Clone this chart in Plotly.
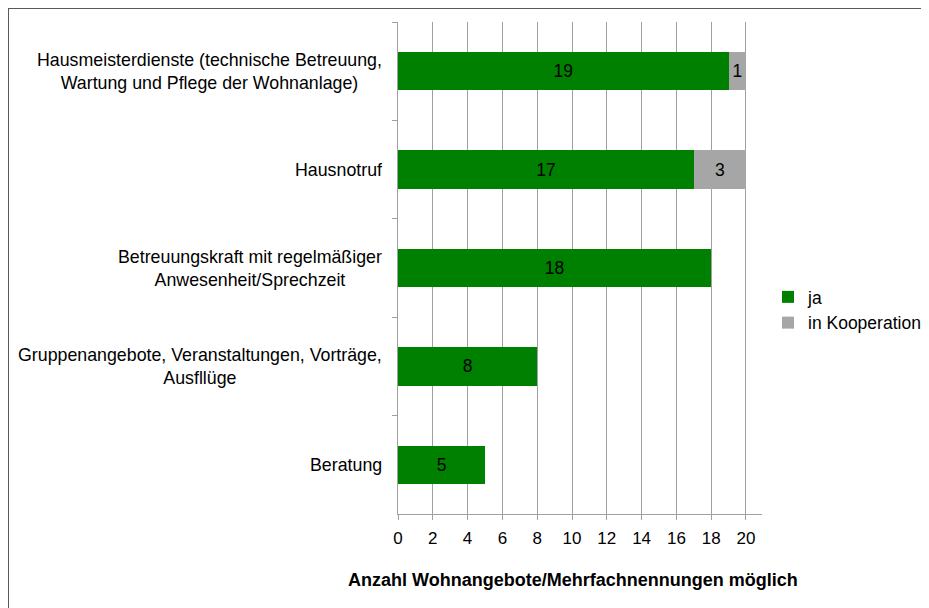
import plotly.graph_objects as go

categories = [
    "Hausmeisterdienste (technische Betreuung,<br>Wartung und Pflege der Wohnanlage)",
    "Hausnotruf",
    "Betreuungskraft mit regelmäßiger<br>Anwesenheit/Sprechzeit",
    "Gruppenangebote, Veranstaltungen, Vorträge,<br>Ausfllüge",
    "Beratung",
]
ja = [19, 17, 18, 8, 5]
kooperation = [1, 3, 0, 0, 0]
x_ticks = list(range(0, 21, 2))
x_title = "Anzahl Wohnangebote/Mehrfachnennungen möglich"

FONT = "Liberation Sans, Arial, sans-serif"
GREEN = "#008000"
GREY = "#a6a6a6"
GRID = "#a0a0a0"

# the page body has an 8px margin, so the figure sits 8px in from the window edge
OFF = 8
W, H = 929 - OFF, 608 - OFF
# plot area, in window pixels
L, R, T, B = 398, 762, 22, 514


def px(x):
    return (x - L) / (R - L)


def py(y):
    return (B - y) / (B - T)


fig = go.Figure()
fig.add_trace(go.Bar(
    y=categories, x=ja, orientation="h", name="ja",
    marker=dict(color=GREEN, line=dict(width=0)),
    text=[str(v) if v else "" for v in ja],
    textposition="inside", insidetextanchor="middle",
    insidetextfont=dict(color="black", size=17.5, family=FONT),
    constraintext="none", legendgroup="a",
))
fig.add_trace(go.Bar(
    y=categories, x=kooperation, orientation="h", name="in Kooperation",
    marker=dict(color=GREY, line=dict(width=0)),
    text=[str(v) if v else "" for v in kooperation],
    textposition="inside", insidetextanchor="middle",
    insidetextfont=dict(color="black", size=17.5, family=FONT),
    constraintext="none", legendgroup="b",
))

# category labels, wrapped lines centred on each other like the original
for c in categories:
    fig.add_annotation(
        x=px(384), xref="paper", y=c, yref="y", text=c, showarrow=False,
        xanchor="right", yanchor="middle", align="center",
        font=dict(size=17.8, family=FONT, color="black"),
    )

fig.add_annotation(
    x=px(573), xref="paper", y=py(580), yref="paper", text="<b>%s</b>" % x_title,
    showarrow=False, xanchor="center", yanchor="middle",
    font=dict(size=18, family=FONT, color="black"),
)

# chart area border (only top/left edges visible in the picture)
fig.add_shape(
    type="rect", xref="paper", yref="paper",
    x0=px(OFF), y0=py(700), x1=px(1000), y1=py(OFF),
    line=dict(color="#595959", width=2), layer="below",
)

fig.update_layout(
    width=W, height=H,
    barmode="stack", bargap=0.61,
    margin=dict(l=L - OFF, r=W - (R - OFF), t=T - OFF, b=H - (B - OFF), autoexpand=False),
    paper_bgcolor="white", plot_bgcolor="white",
    font=dict(family=FONT, size=17, color="black"),
    showlegend=True,
    legend=dict(
        x=px(768), y=py(279), xanchor="left", yanchor="top",
        traceorder="grouped", tracegroupgap=0,
        font=dict(size=17.5, family=FONT, color="black"),
        bgcolor="rgba(0,0,0,0)",
    ),
    xaxis=dict(
        range=[0, 20.92], tickvals=x_ticks, showgrid=True, gridcolor=GRID, gridwidth=1,
        showline=True, linecolor=GRID, linewidth=1, zeroline=False,
        ticks="outside", ticklen=5, tickcolor=GRID, ticklabelstandoff=4,
        tickfont=dict(size=17, family=FONT, color="black"),
    ),
    yaxis=dict(
        autorange="reversed", showticklabels=False, showgrid=False,
        showline=True, linecolor=GRID, linewidth=1,
        ticks="outside", ticklen=5, tickcolor=GRID, tickson="boundaries",
    ),
)

fig.write_html("out.html")
